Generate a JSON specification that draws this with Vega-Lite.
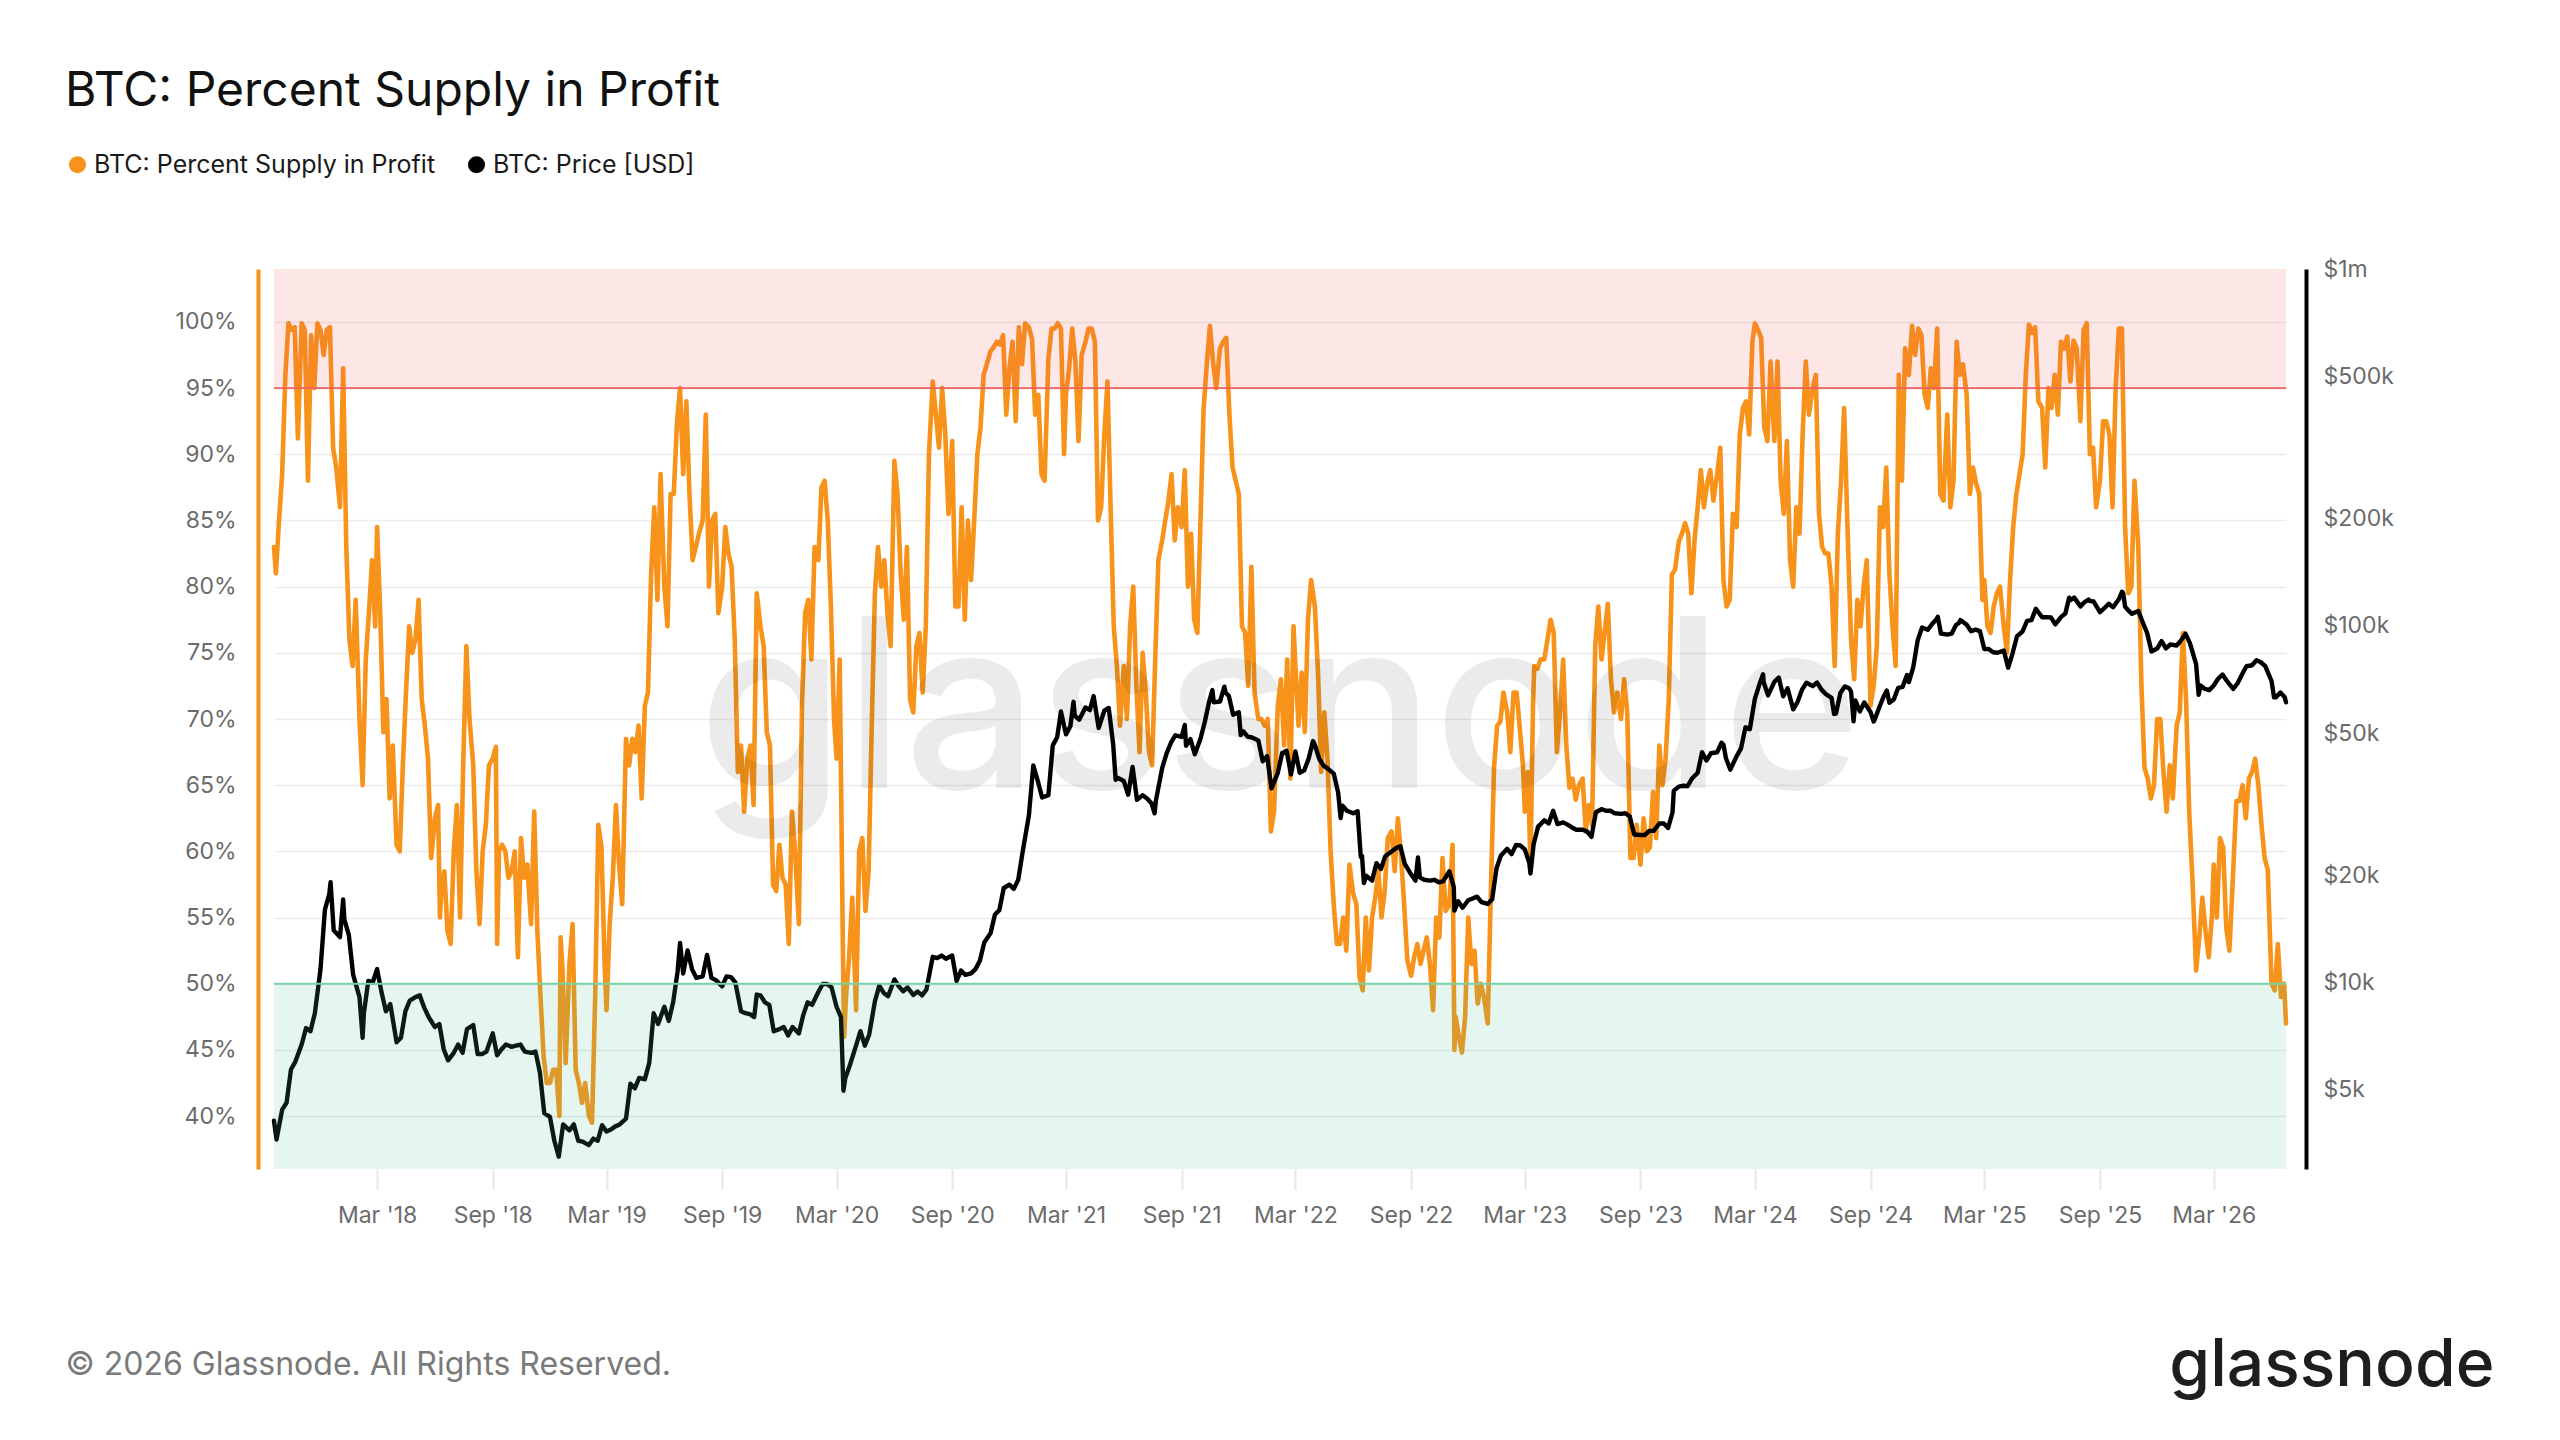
{
  "$schema": "https://vega.github.io/schema/vega-lite/v6.json",
  "width": 2012,
  "height": 900,
  "autosize": {"type": "none"},
  "padding": {"left": 274, "top": 269, "right": 274, "bottom": 271},
  "background": "#ffffff",
  "config": {
    "font": "Inter",
    "view": {"stroke": null},
    "axis": {"labelFont": "Inter", "titleFont": "Inter", "labelFontSize": 23, "labelColor": "#6b6b6b"}
  },
  "title": {
    "text": "BTC: Percent Supply in Profit",
    "anchor": "start",
    "frame": "group",
    "orient": "top",
    "dx": -209,
    "dy": 46,
    "offset": 44,
    "baseline": "alphabetic",
    "fontSize": 48,
    "fontWeight": 400,
    "color": "#111111",
    "font": "Inter"
  },
  "datasets": {
    "supply": [
      {"d":"2017-09-18","v":83},{"d":"2017-09-21","v":81},{"d":"2017-09-26","v":85},
      {"d":"2017-10-01","v":88.5},{"d":"2017-10-06","v":95.9},{"d":"2017-10-11","v":99.9},{"d":"2017-10-16","v":99.4},{"d":"2017-10-21","v":99.6},{"d":"2017-10-26","v":91.2},
      {"d":"2017-11-01","v":99.9},{"d":"2017-11-06","v":99.4},{"d":"2017-11-11","v":88},{"d":"2017-11-16","v":99},{"d":"2017-11-21","v":95},{"d":"2017-11-26","v":99.9},
      {"d":"2017-12-01","v":99.4},{"d":"2017-12-06","v":97.5},{"d":"2017-12-11","v":99.4},{"d":"2017-12-16","v":99.6},{"d":"2017-12-21","v":90.5},{"d":"2017-12-26","v":89},
      {"d":"2018-01-01","v":86},{"d":"2018-01-06","v":96.5},{"d":"2018-01-11","v":83},{"d":"2018-01-16","v":76},{"d":"2018-01-21","v":74},{"d":"2018-01-26","v":79},
      {"d":"2018-02-01","v":70},{"d":"2018-02-06","v":65},{"d":"2018-02-11","v":74.5},{"d":"2018-02-16","v":78},{"d":"2018-02-21","v":82},{"d":"2018-02-26","v":77},
      {"d":"2018-03-01","v":84.5},{"d":"2018-03-06","v":78},{"d":"2018-03-11","v":69},{"d":"2018-03-16","v":71.5},{"d":"2018-03-21","v":64},{"d":"2018-03-26","v":68},
      {"d":"2018-04-01","v":60.5},{"d":"2018-04-06","v":60},{"d":"2018-04-11","v":66.5},{"d":"2018-04-16","v":72},{"d":"2018-04-21","v":77},{"d":"2018-04-26","v":75},
      {"d":"2018-05-01","v":76},{"d":"2018-05-06","v":79},{"d":"2018-05-11","v":71.5},{"d":"2018-05-16","v":69.5},{"d":"2018-05-21","v":67},{"d":"2018-05-26","v":59.5},
      {"d":"2018-06-01","v":62.5},{"d":"2018-06-06","v":63.5},{"d":"2018-06-09","v":55},{"d":"2018-06-11","v":57},{"d":"2018-06-16","v":58.5},{"d":"2018-06-21","v":54},{"d":"2018-06-26","v":53},
      {"d":"2018-07-01","v":60},{"d":"2018-07-06","v":63.5},{"d":"2018-07-11","v":55},{"d":"2018-07-16","v":66.5},{"d":"2018-07-21","v":75.5},{"d":"2018-07-26","v":70},
      {"d":"2018-08-01","v":66.5},{"d":"2018-08-06","v":58.5},{"d":"2018-08-11","v":54.5},{"d":"2018-08-16","v":60},{"d":"2018-08-21","v":62},{"d":"2018-08-26","v":66.5},
      {"d":"2018-09-01","v":67},{"d":"2018-09-06","v":67.9},{"d":"2018-09-08","v":53},{"d":"2018-09-11","v":60},{"d":"2018-09-16","v":60.5},{"d":"2018-09-21","v":60},{"d":"2018-09-26","v":58},
      {"d":"2018-10-01","v":58.5},{"d":"2018-10-06","v":60},{"d":"2018-10-11","v":52},{"d":"2018-10-16","v":61},{"d":"2018-10-21","v":58},{"d":"2018-10-26","v":59},
      {"d":"2018-11-01","v":54.5},{"d":"2018-11-06","v":63},{"d":"2018-11-11","v":54},{"d":"2018-11-16","v":49},{"d":"2018-11-21","v":44.5},{"d":"2018-11-26","v":42.5},
      {"d":"2018-12-01","v":42.5},{"d":"2018-12-06","v":43.5},{"d":"2018-12-11","v":43.5},{"d":"2018-12-16","v":40},{"d":"2018-12-18","v":53.5},{"d":"2018-12-21","v":51},{"d":"2018-12-26","v":44},
      {"d":"2019-01-01","v":51.5},{"d":"2019-01-06","v":54.5},{"d":"2019-01-11","v":43.5},{"d":"2019-01-16","v":42.5},{"d":"2019-01-21","v":41},{"d":"2019-01-26","v":42.5},
      {"d":"2019-02-01","v":40},{"d":"2019-02-06","v":39.5},{"d":"2019-02-11","v":49},{"d":"2019-02-16","v":62},{"d":"2019-02-21","v":60.3},{"d":"2019-02-26","v":51.5},
      {"d":"2019-03-01","v":48},{"d":"2019-03-06","v":54.5},{"d":"2019-03-11","v":58},{"d":"2019-03-16","v":63.5},{"d":"2019-03-21","v":59},{"d":"2019-03-26","v":56},
      {"d":"2019-04-01","v":68.5},{"d":"2019-04-06","v":66.5},{"d":"2019-04-11","v":68.5},{"d":"2019-04-16","v":67.5},{"d":"2019-04-21","v":69.5},{"d":"2019-04-26","v":64},
      {"d":"2019-05-01","v":71},{"d":"2019-05-06","v":72},{"d":"2019-05-11","v":81},{"d":"2019-05-16","v":86},{"d":"2019-05-21","v":79},{"d":"2019-05-26","v":88.5},
      {"d":"2019-06-01","v":80},{"d":"2019-06-06","v":77},{"d":"2019-06-11","v":87},{"d":"2019-06-16","v":87},{"d":"2019-06-21","v":92.3},{"d":"2019-06-26","v":95},
      {"d":"2019-07-01","v":88.5},{"d":"2019-07-06","v":94},{"d":"2019-07-11","v":87},{"d":"2019-07-16","v":82},{"d":"2019-07-21","v":83},{"d":"2019-07-26","v":84},
      {"d":"2019-08-01","v":85},{"d":"2019-08-06","v":93},{"d":"2019-08-11","v":80},{"d":"2019-08-16","v":85},{"d":"2019-08-21","v":85.5},{"d":"2019-08-26","v":78},
      {"d":"2019-09-01","v":80},{"d":"2019-09-06","v":84.5},{"d":"2019-09-11","v":82.5},{"d":"2019-09-16","v":81.5},{"d":"2019-09-21","v":76},{"d":"2019-09-26","v":66},
      {"d":"2019-10-01","v":68},{"d":"2019-10-06","v":63},{"d":"2019-10-11","v":67},{"d":"2019-10-16","v":68},{"d":"2019-10-21","v":63.5},{"d":"2019-10-26","v":79.5},
      {"d":"2019-11-01","v":77},{"d":"2019-11-06","v":75.5},{"d":"2019-11-11","v":69},{"d":"2019-11-16","v":68},{"d":"2019-11-21","v":57.5},{"d":"2019-11-26","v":57},
      {"d":"2019-12-01","v":60.5},{"d":"2019-12-06","v":58},{"d":"2019-12-11","v":57.5},{"d":"2019-12-16","v":53},{"d":"2019-12-21","v":63},{"d":"2019-12-26","v":60},
      {"d":"2020-01-01","v":54.5},{"d":"2020-01-06","v":71},{"d":"2020-01-11","v":78},{"d":"2020-01-16","v":79},{"d":"2020-01-21","v":74.5},{"d":"2020-01-26","v":83},
      {"d":"2020-02-01","v":82},{"d":"2020-02-06","v":87.5},{"d":"2020-02-11","v":88},{"d":"2020-02-16","v":85},{"d":"2020-02-21","v":78.5},{"d":"2020-02-26","v":70},
      {"d":"2020-03-01","v":67},{"d":"2020-03-06","v":74.5},{"d":"2020-03-11","v":53},{"d":"2020-03-13","v":46},{"d":"2020-03-16","v":49},{"d":"2020-03-21","v":52},{"d":"2020-03-26","v":56.5},
      {"d":"2020-04-01","v":48},{"d":"2020-04-06","v":60},{"d":"2020-04-11","v":61},{"d":"2020-04-16","v":55.5},{"d":"2020-04-21","v":58.5},{"d":"2020-04-26","v":69.5},
      {"d":"2020-05-01","v":79.5},{"d":"2020-05-06","v":83},{"d":"2020-05-11","v":80},{"d":"2020-05-16","v":82},{"d":"2020-05-21","v":78},{"d":"2020-05-26","v":75.5},
      {"d":"2020-06-01","v":89.5},{"d":"2020-06-06","v":87},{"d":"2020-06-11","v":81},{"d":"2020-06-16","v":77.5},{"d":"2020-06-21","v":83},{"d":"2020-06-26","v":71.5},
      {"d":"2020-07-01","v":70.5},{"d":"2020-07-06","v":75.5},{"d":"2020-07-11","v":76.5},{"d":"2020-07-16","v":72},{"d":"2020-07-21","v":77},{"d":"2020-07-26","v":90},
      {"d":"2020-08-01","v":95.5},{"d":"2020-08-06","v":93},{"d":"2020-08-11","v":90.5},{"d":"2020-08-16","v":95},{"d":"2020-08-21","v":91.5},{"d":"2020-08-26","v":85.5},
      {"d":"2020-09-01","v":91},{"d":"2020-09-06","v":78.5},{"d":"2020-09-11","v":78.5},{"d":"2020-09-16","v":86},{"d":"2020-09-21","v":77.5},{"d":"2020-09-26","v":85},
      {"d":"2020-10-01","v":80.5},{"d":"2020-10-06","v":85},{"d":"2020-10-11","v":90},{"d":"2020-10-16","v":92},{"d":"2020-10-21","v":96},{"d":"2020-10-26","v":96.8},
      {"d":"2020-11-01","v":97.8},{"d":"2020-11-06","v":98.1},{"d":"2020-11-11","v":98.5},{"d":"2020-11-16","v":98.3},{"d":"2020-11-21","v":99},{"d":"2020-11-26","v":93},
      {"d":"2020-12-01","v":96.5},{"d":"2020-12-06","v":98.5},{"d":"2020-12-11","v":92.5},{"d":"2020-12-16","v":99.6},{"d":"2020-12-21","v":96.8},{"d":"2020-12-26","v":99.9},
      {"d":"2021-01-01","v":99.6},{"d":"2021-01-06","v":98.7},{"d":"2021-01-11","v":93},{"d":"2021-01-16","v":94.5},{"d":"2021-01-21","v":88.5},{"d":"2021-01-26","v":88},
      {"d":"2021-02-01","v":97.2},{"d":"2021-02-06","v":99.5},{"d":"2021-02-11","v":99.5},{"d":"2021-02-16","v":99.9},{"d":"2021-02-21","v":99.5},{"d":"2021-02-26","v":90},
      {"d":"2021-03-01","v":94.5},{"d":"2021-03-06","v":96.5},{"d":"2021-03-11","v":99.5},{"d":"2021-03-16","v":97},{"d":"2021-03-21","v":91},{"d":"2021-03-26","v":97.5},
      {"d":"2021-04-01","v":98.5},{"d":"2021-04-06","v":99.5},{"d":"2021-04-11","v":99.5},{"d":"2021-04-16","v":98.5},{"d":"2021-04-21","v":85},{"d":"2021-04-26","v":86},
      {"d":"2021-05-01","v":91.5},{"d":"2021-05-06","v":95.5},{"d":"2021-05-11","v":86},{"d":"2021-05-16","v":77},{"d":"2021-05-21","v":74},{"d":"2021-05-26","v":69.5},
      {"d":"2021-06-01","v":74},{"d":"2021-06-06","v":70},{"d":"2021-06-11","v":77},{"d":"2021-06-16","v":80},{"d":"2021-06-21","v":72.5},{"d":"2021-06-26","v":67.5},
      {"d":"2021-07-01","v":75},{"d":"2021-07-06","v":72},{"d":"2021-07-11","v":67.5},{"d":"2021-07-16","v":66.5},{"d":"2021-07-21","v":74.5},{"d":"2021-07-26","v":82},
      {"d":"2021-08-01","v":83.5},{"d":"2021-08-06","v":85},{"d":"2021-08-11","v":86.5},{"d":"2021-08-16","v":88.5},{"d":"2021-08-21","v":83.5},{"d":"2021-08-26","v":86},
      {"d":"2021-09-01","v":84.5},{"d":"2021-09-06","v":88.8},{"d":"2021-09-11","v":80},{"d":"2021-09-16","v":84},{"d":"2021-09-21","v":77.5},{"d":"2021-09-26","v":76.5},
      {"d":"2021-10-01","v":85},{"d":"2021-10-06","v":93.5},{"d":"2021-10-11","v":96.8},{"d":"2021-10-16","v":99.7},{"d":"2021-10-21","v":97},{"d":"2021-10-26","v":95},
      {"d":"2021-11-01","v":98},{"d":"2021-11-06","v":98.5},{"d":"2021-11-11","v":98.8},{"d":"2021-11-16","v":93},{"d":"2021-11-21","v":89},{"d":"2021-11-26","v":88},
      {"d":"2021-12-01","v":87},{"d":"2021-12-06","v":77},{"d":"2021-12-11","v":76.5},{"d":"2021-12-16","v":72.5},{"d":"2021-12-21","v":81.5},{"d":"2021-12-26","v":72},
      {"d":"2022-01-01","v":70},{"d":"2022-01-06","v":70},{"d":"2022-01-11","v":69.5},{"d":"2022-01-16","v":70},{"d":"2022-01-21","v":61.5},{"d":"2022-01-26","v":63},
      {"d":"2022-02-01","v":71},{"d":"2022-02-06","v":73},{"d":"2022-02-11","v":68},{"d":"2022-02-16","v":74.5},{"d":"2022-02-21","v":65.5},{"d":"2022-02-26","v":77},
      {"d":"2022-03-01","v":74},{"d":"2022-03-06","v":69.5},{"d":"2022-03-11","v":73.5},{"d":"2022-03-16","v":69},{"d":"2022-03-21","v":77.5},{"d":"2022-03-26","v":80.5},
      {"d":"2022-04-01","v":78.5},{"d":"2022-04-06","v":73.5},{"d":"2022-04-11","v":66},{"d":"2022-04-16","v":70.5},{"d":"2022-04-21","v":67},{"d":"2022-04-26","v":60},
      {"d":"2022-05-01","v":56},{"d":"2022-05-06","v":53},{"d":"2022-05-11","v":53},{"d":"2022-05-16","v":55},{"d":"2022-05-21","v":52.5},{"d":"2022-05-26","v":59},
      {"d":"2022-06-01","v":56.8},{"d":"2022-06-06","v":56},{"d":"2022-06-11","v":50.5},{"d":"2022-06-16","v":49.5},{"d":"2022-06-21","v":55},{"d":"2022-06-26","v":51},
      {"d":"2022-07-01","v":55},{"d":"2022-07-06","v":56.5},{"d":"2022-07-11","v":58.5},{"d":"2022-07-16","v":55},{"d":"2022-07-21","v":57},{"d":"2022-07-26","v":61},
      {"d":"2022-08-01","v":61.5},{"d":"2022-08-06","v":58.5},{"d":"2022-08-11","v":62.5},{"d":"2022-08-16","v":59.8},{"d":"2022-08-21","v":56},{"d":"2022-08-26","v":51.8},
      {"d":"2022-09-01","v":50.6},{"d":"2022-09-06","v":52},{"d":"2022-09-11","v":53},{"d":"2022-09-16","v":51.5},{"d":"2022-09-21","v":52.5},{"d":"2022-09-26","v":53.5},
      {"d":"2022-10-01","v":51.5},{"d":"2022-10-06","v":48},{"d":"2022-10-11","v":55},{"d":"2022-10-16","v":53.5},{"d":"2022-10-21","v":59.5},{"d":"2022-10-26","v":55.5},
      {"d":"2022-11-01","v":56},{"d":"2022-11-06","v":60.5},{"d":"2022-11-09","v":45},{"d":"2022-11-11","v":47.5},{"d":"2022-11-16","v":46},{"d":"2022-11-21","v":44.8},{"d":"2022-11-26","v":47.5},
      {"d":"2022-12-01","v":55},{"d":"2022-12-06","v":51.5},{"d":"2022-12-11","v":52.5},{"d":"2022-12-16","v":48.5},{"d":"2022-12-21","v":50},{"d":"2022-12-26","v":49},
      {"d":"2023-01-01","v":47},{"d":"2023-01-06","v":57},{"d":"2023-01-11","v":66.3},{"d":"2023-01-16","v":69.5},{"d":"2023-01-21","v":69.8},{"d":"2023-01-26","v":72},
      {"d":"2023-02-01","v":70.5},{"d":"2023-02-06","v":67.5},{"d":"2023-02-11","v":72},{"d":"2023-02-16","v":72},{"d":"2023-02-21","v":69.3},{"d":"2023-02-26","v":66.5},
      {"d":"2023-03-01","v":63},{"d":"2023-03-06","v":66},{"d":"2023-03-10","v":59},{"d":"2023-03-14","v":71},{"d":"2023-03-16","v":74},{"d":"2023-03-21","v":73.8},{"d":"2023-03-26","v":74.5},
      {"d":"2023-04-01","v":74.5},{"d":"2023-04-06","v":76},{"d":"2023-04-11","v":77.5},{"d":"2023-04-16","v":76.5},{"d":"2023-04-21","v":67.5},{"d":"2023-04-26","v":70.5},
      {"d":"2023-05-01","v":74.5},{"d":"2023-05-06","v":68},{"d":"2023-05-11","v":64.8},{"d":"2023-05-16","v":65.5},{"d":"2023-05-21","v":63.9},{"d":"2023-05-26","v":65},
      {"d":"2023-06-01","v":65.5},{"d":"2023-06-06","v":61.5},{"d":"2023-06-11","v":63.5},{"d":"2023-06-16","v":62},{"d":"2023-06-21","v":75.5},{"d":"2023-06-26","v":78.5},
      {"d":"2023-07-01","v":74.5},{"d":"2023-07-06","v":76.6},{"d":"2023-07-11","v":78.7},{"d":"2023-07-16","v":73},{"d":"2023-07-21","v":70.5},{"d":"2023-07-26","v":72},
      {"d":"2023-08-01","v":70},{"d":"2023-08-06","v":73},{"d":"2023-08-11","v":70.5},{"d":"2023-08-16","v":59.5},{"d":"2023-08-21","v":59.5},{"d":"2023-08-26","v":62},
      {"d":"2023-09-01","v":59},{"d":"2023-09-06","v":62.5},{"d":"2023-09-11","v":60},{"d":"2023-09-16","v":60.3},{"d":"2023-09-21","v":64.5},{"d":"2023-09-26","v":61},
      {"d":"2023-10-01","v":68},{"d":"2023-10-06","v":65},{"d":"2023-10-11","v":67},{"d":"2023-10-16","v":71.5},{"d":"2023-10-21","v":80.9},{"d":"2023-10-26","v":81.3},
      {"d":"2023-11-01","v":83.4},{"d":"2023-11-06","v":84},{"d":"2023-11-11","v":84.8},{"d":"2023-11-16","v":84},{"d":"2023-11-21","v":79.5},{"d":"2023-11-26","v":83.5},
      {"d":"2023-12-01","v":86},{"d":"2023-12-06","v":88.8},{"d":"2023-12-11","v":86},{"d":"2023-12-16","v":87.8},{"d":"2023-12-21","v":88.8},{"d":"2023-12-26","v":86.5},
      {"d":"2024-01-01","v":88.5},{"d":"2024-01-06","v":90.5},{"d":"2024-01-11","v":80.5},{"d":"2024-01-16","v":78.5},{"d":"2024-01-21","v":79},{"d":"2024-01-26","v":85.5},
      {"d":"2024-02-01","v":84.5},{"d":"2024-02-06","v":91.5},{"d":"2024-02-11","v":93.5},{"d":"2024-02-16","v":94},{"d":"2024-02-21","v":91.5},{"d":"2024-02-26","v":98.5},
      {"d":"2024-03-01","v":99.9},{"d":"2024-03-06","v":99.4},{"d":"2024-03-11","v":98.8},{"d":"2024-03-16","v":92},{"d":"2024-03-21","v":91},{"d":"2024-03-26","v":97},
      {"d":"2024-04-01","v":91},{"d":"2024-04-06","v":97},{"d":"2024-04-11","v":88},{"d":"2024-04-16","v":85.5},{"d":"2024-04-21","v":91},{"d":"2024-04-26","v":82},
      {"d":"2024-05-01","v":80},{"d":"2024-05-06","v":86},{"d":"2024-05-11","v":84},{"d":"2024-05-16","v":91.5},{"d":"2024-05-21","v":97},{"d":"2024-05-26","v":93},
      {"d":"2024-06-01","v":95},{"d":"2024-06-06","v":96},{"d":"2024-06-11","v":85.5},{"d":"2024-06-16","v":83},{"d":"2024-06-21","v":82.5},{"d":"2024-06-26","v":82.5},
      {"d":"2024-07-01","v":80},{"d":"2024-07-06","v":74},{"d":"2024-07-11","v":84},{"d":"2024-07-16","v":87.8},{"d":"2024-07-21","v":93.5},{"d":"2024-07-26","v":85},
      {"d":"2024-08-01","v":76},{"d":"2024-08-06","v":73},{"d":"2024-08-11","v":79},{"d":"2024-08-16","v":77},{"d":"2024-08-21","v":80},{"d":"2024-08-26","v":82},
      {"d":"2024-09-01","v":71},{"d":"2024-09-06","v":72.5},{"d":"2024-09-11","v":75.5},{"d":"2024-09-16","v":86},{"d":"2024-09-21","v":84.5},{"d":"2024-09-26","v":89},
      {"d":"2024-10-01","v":81},{"d":"2024-10-06","v":77},{"d":"2024-10-11","v":74},{"d":"2024-10-16","v":96},{"d":"2024-10-21","v":88},{"d":"2024-10-26","v":98},
      {"d":"2024-11-01","v":96},{"d":"2024-11-06","v":99.7},{"d":"2024-11-11","v":97.5},{"d":"2024-11-16","v":99.5},{"d":"2024-11-21","v":99},{"d":"2024-11-26","v":94.5},
      {"d":"2024-12-01","v":93.5},{"d":"2024-12-06","v":96.5},{"d":"2024-12-11","v":95},{"d":"2024-12-16","v":99.5},{"d":"2024-12-21","v":87},{"d":"2024-12-26","v":86.5},
      {"d":"2025-01-01","v":93},{"d":"2025-01-06","v":86},{"d":"2025-01-11","v":88},{"d":"2025-01-16","v":98.5},{"d":"2025-01-21","v":96},{"d":"2025-01-26","v":96.8},
      {"d":"2025-02-01","v":94.5},{"d":"2025-02-06","v":87},{"d":"2025-02-11","v":89},{"d":"2025-02-16","v":87.8},{"d":"2025-02-21","v":87},{"d":"2025-02-26","v":79},
      {"d":"2025-03-01","v":80.5},{"d":"2025-03-06","v":77},{"d":"2025-03-11","v":76.5},{"d":"2025-03-16","v":78.5},{"d":"2025-03-21","v":79.5},{"d":"2025-03-26","v":80},
      {"d":"2025-04-01","v":77},{"d":"2025-04-06","v":75},{"d":"2025-04-11","v":80.5},{"d":"2025-04-16","v":84.5},{"d":"2025-04-21","v":87},{"d":"2025-04-26","v":88.5},
      {"d":"2025-05-01","v":90},{"d":"2025-05-06","v":96},{"d":"2025-05-11","v":99.8},{"d":"2025-05-16","v":99.2},{"d":"2025-05-21","v":99.6},{"d":"2025-05-26","v":94},
      {"d":"2025-06-01","v":93.5},{"d":"2025-06-06","v":89},{"d":"2025-06-11","v":95},{"d":"2025-06-16","v":93.5},{"d":"2025-06-21","v":96},{"d":"2025-06-26","v":93},
      {"d":"2025-07-01","v":98.5},{"d":"2025-07-06","v":98},{"d":"2025-07-11","v":98.9},{"d":"2025-07-16","v":95.5},{"d":"2025-07-21","v":98.6},{"d":"2025-07-26","v":98},
      {"d":"2025-08-01","v":92.5},{"d":"2025-08-06","v":99.4},{"d":"2025-08-11","v":99.9},{"d":"2025-08-16","v":90},{"d":"2025-08-21","v":90.5},{"d":"2025-08-26","v":86},
      {"d":"2025-09-01","v":88},{"d":"2025-09-06","v":92.5},{"d":"2025-09-11","v":92.5},{"d":"2025-09-16","v":91.5},{"d":"2025-09-21","v":86},{"d":"2025-09-26","v":95},
      {"d":"2025-10-01","v":99.5},{"d":"2025-10-06","v":99.5},{"d":"2025-10-11","v":84.5},{"d":"2025-10-16","v":79.5},{"d":"2025-10-21","v":80},{"d":"2025-10-26","v":88},
      {"d":"2025-11-01","v":83},{"d":"2025-11-06","v":72.5},{"d":"2025-11-11","v":66.3},{"d":"2025-11-16","v":65.5},{"d":"2025-11-21","v":64},{"d":"2025-11-26","v":65},
      {"d":"2025-12-01","v":70},{"d":"2025-12-06","v":70},{"d":"2025-12-11","v":66},{"d":"2025-12-16","v":63},{"d":"2025-12-21","v":66.5},{"d":"2025-12-26","v":64},
      {"d":"2026-01-01","v":69.5},{"d":"2026-01-06","v":70.5},{"d":"2026-01-11","v":76.5},{"d":"2026-01-16","v":71.5},{"d":"2026-01-21","v":63},{"d":"2026-01-26","v":58},
      {"d":"2026-02-01","v":51},{"d":"2026-02-06","v":53.5},{"d":"2026-02-11","v":56.5},{"d":"2026-02-16","v":54},{"d":"2026-02-21","v":52},{"d":"2026-02-26","v":55},
      {"d":"2026-03-01","v":59},{"d":"2026-03-06","v":55},{"d":"2026-03-11","v":61},{"d":"2026-03-16","v":60.3},{"d":"2026-03-21","v":54.2},{"d":"2026-03-26","v":52.5},
      {"d":"2026-04-01","v":58.5},{"d":"2026-04-06","v":63.8},{"d":"2026-04-11","v":63.8},{"d":"2026-04-16","v":65},{"d":"2026-04-21","v":62.5},{"d":"2026-04-26","v":65.5},
      {"d":"2026-05-01","v":66},{"d":"2026-05-06","v":67},{"d":"2026-05-11","v":65},{"d":"2026-05-16","v":62},{"d":"2026-05-21","v":59.5},{"d":"2026-05-26","v":58.6},
      {"d":"2026-06-01","v":50},{"d":"2026-06-06","v":49.5},{"d":"2026-06-11","v":53},{"d":"2026-06-16","v":49},{"d":"2026-06-21","v":50},{"d":"2026-06-24","v":47}
    ],
    "price": [
      {"d":"2017-09-18","p":4100},{"d":"2017-09-22","p":3630},
      {"d":"2017-10-01","p":4400},{"d":"2017-10-08","p":4600},{"d":"2017-10-15","p":5700},{"d":"2017-10-22","p":6000},
      {"d":"2017-11-01","p":6700},{"d":"2017-11-08","p":7450},{"d":"2017-11-15","p":7300},{"d":"2017-11-22","p":8200},
      {"d":"2017-12-01","p":10900},{"d":"2017-12-08","p":16000},{"d":"2017-12-15","p":17700},{"d":"2017-12-17","p":19100},{"d":"2017-12-22","p":14000},
      {"d":"2018-01-01","p":13400},{"d":"2018-01-06","p":17100},{"d":"2018-01-08","p":15000},{"d":"2018-01-15","p":13600},{"d":"2018-01-22","p":10500},
      {"d":"2018-02-01","p":9100},{"d":"2018-02-06","p":7000},{"d":"2018-02-08","p":8200},{"d":"2018-02-15","p":10100},{"d":"2018-02-22","p":10000},
      {"d":"2018-03-01","p":10900},{"d":"2018-03-08","p":9400},{"d":"2018-03-15","p":8300},{"d":"2018-03-22","p":8700},
      {"d":"2018-04-01","p":6800},{"d":"2018-04-08","p":7000},{"d":"2018-04-15","p":8300},{"d":"2018-04-22","p":8900},
      {"d":"2018-05-01","p":9100},{"d":"2018-05-08","p":9200},{"d":"2018-05-15","p":8500},{"d":"2018-05-22","p":8000},
      {"d":"2018-06-01","p":7500},{"d":"2018-06-08","p":7650},{"d":"2018-06-15","p":6500},{"d":"2018-06-22","p":6050},
      {"d":"2018-07-01","p":6350},{"d":"2018-07-08","p":6700},{"d":"2018-07-15","p":6350},{"d":"2018-07-22","p":7400},
      {"d":"2018-08-01","p":7600},{"d":"2018-08-08","p":6300},{"d":"2018-08-15","p":6300},{"d":"2018-08-22","p":6400},
      {"d":"2018-09-01","p":7200},{"d":"2018-09-08","p":6250},{"d":"2018-09-15","p":6500},{"d":"2018-09-22","p":6700},
      {"d":"2018-10-01","p":6600},{"d":"2018-10-08","p":6650},{"d":"2018-10-15","p":6700},{"d":"2018-10-22","p":6400},
      {"d":"2018-11-01","p":6350},{"d":"2018-11-08","p":6400},{"d":"2018-11-15","p":5600},{"d":"2018-11-22","p":4300},
      {"d":"2018-12-01","p":4200},{"d":"2018-12-08","p":3600},{"d":"2018-12-15","p":3250},{"d":"2018-12-22","p":4000},
      {"d":"2019-01-01","p":3850},{"d":"2019-01-08","p":4000},{"d":"2019-01-15","p":3600},{"d":"2019-01-22","p":3580},
      {"d":"2019-02-01","p":3500},{"d":"2019-02-08","p":3650},{"d":"2019-02-15","p":3600},{"d":"2019-02-22","p":3980},
      {"d":"2019-03-01","p":3820},{"d":"2019-03-08","p":3870},{"d":"2019-03-15","p":3950},{"d":"2019-03-22","p":4000},
      {"d":"2019-04-01","p":4150},{"d":"2019-04-08","p":5200},{"d":"2019-04-15","p":5050},{"d":"2019-04-22","p":5400},
      {"d":"2019-05-01","p":5350},{"d":"2019-05-08","p":5950},{"d":"2019-05-15","p":8200},{"d":"2019-05-22","p":7650},
      {"d":"2019-06-01","p":8550},{"d":"2019-06-08","p":7800},{"d":"2019-06-15","p":8800},{"d":"2019-06-22","p":10700},{"d":"2019-06-26","p":12900},
      {"d":"2019-07-01","p":10600},{"d":"2019-07-08","p":12300},{"d":"2019-07-15","p":10900},{"d":"2019-07-22","p":10300},
      {"d":"2019-08-01","p":10400},{"d":"2019-08-08","p":11950},{"d":"2019-08-15","p":10300},{"d":"2019-08-22","p":10150},
      {"d":"2019-09-01","p":9750},{"d":"2019-09-08","p":10400},{"d":"2019-09-15","p":10350},{"d":"2019-09-22","p":10000},
      {"d":"2019-10-01","p":8300},{"d":"2019-10-08","p":8200},{"d":"2019-10-15","p":8150},{"d":"2019-10-22","p":8000},{"d":"2019-10-26","p":9250},
      {"d":"2019-11-01","p":9200},{"d":"2019-11-08","p":8800},{"d":"2019-11-15","p":8650},{"d":"2019-11-22","p":7300},
      {"d":"2019-12-01","p":7400},{"d":"2019-12-08","p":7500},{"d":"2019-12-15","p":7100},{"d":"2019-12-22","p":7500},
      {"d":"2020-01-01","p":7200},{"d":"2020-01-08","p":8100},{"d":"2020-01-15","p":8800},{"d":"2020-01-22","p":8650},
      {"d":"2020-02-01","p":9400},{"d":"2020-02-08","p":9900},{"d":"2020-02-15","p":9900},{"d":"2020-02-22","p":9700},
      {"d":"2020-03-01","p":8550},{"d":"2020-03-08","p":8000},{"d":"2020-03-12","p":4970},{"d":"2020-03-15","p":5400},{"d":"2020-03-22","p":5850},
      {"d":"2020-04-01","p":6650},{"d":"2020-04-08","p":7300},{"d":"2020-04-15","p":6650},{"d":"2020-04-22","p":7150},
      {"d":"2020-05-01","p":8850},{"d":"2020-05-08","p":9800},{"d":"2020-05-15","p":9350},{"d":"2020-05-22","p":9150},
      {"d":"2020-06-01","p":10200},{"d":"2020-06-08","p":9750},{"d":"2020-06-15","p":9450},{"d":"2020-06-22","p":9680},
      {"d":"2020-07-01","p":9230},{"d":"2020-07-08","p":9430},{"d":"2020-07-15","p":9200},{"d":"2020-07-22","p":9550},
      {"d":"2020-08-01","p":11800},{"d":"2020-08-08","p":11700},{"d":"2020-08-15","p":11900},{"d":"2020-08-22","p":11650},
      {"d":"2020-09-01","p":11900},{"d":"2020-09-08","p":10100},{"d":"2020-09-15","p":10800},{"d":"2020-09-22","p":10500},
      {"d":"2020-10-01","p":10600},{"d":"2020-10-08","p":10900},{"d":"2020-10-15","p":11500},{"d":"2020-10-22","p":12950},
      {"d":"2020-11-01","p":13750},{"d":"2020-11-08","p":15500},{"d":"2020-11-15","p":15950},{"d":"2020-11-22","p":18400},
      {"d":"2020-12-01","p":18800},{"d":"2020-12-08","p":18300},{"d":"2020-12-15","p":19400},{"d":"2020-12-22","p":23200},
      {"d":"2021-01-01","p":29400},{"d":"2021-01-08","p":40600},{"d":"2021-01-15","p":36800},{"d":"2021-01-22","p":33000},
      {"d":"2021-02-01","p":33500},{"d":"2021-02-08","p":46200},{"d":"2021-02-15","p":48700},{"d":"2021-02-21","p":57500},
      {"d":"2021-03-01","p":49600},{"d":"2021-03-08","p":52300},{"d":"2021-03-13","p":61200},{"d":"2021-03-15","p":56000},{"d":"2021-03-22","p":54500},
      {"d":"2021-04-01","p":59000},{"d":"2021-04-08","p":58000},{"d":"2021-04-14","p":63500},{"d":"2021-04-22","p":51700},
      {"d":"2021-05-01","p":57800},{"d":"2021-05-08","p":58800},{"d":"2021-05-15","p":46700},{"d":"2021-05-19","p":37000},{"d":"2021-05-22","p":37500},
      {"d":"2021-06-01","p":36700},{"d":"2021-06-08","p":33600},{"d":"2021-06-15","p":40200},{"d":"2021-06-22","p":32500},
      {"d":"2021-07-01","p":33500},{"d":"2021-07-08","p":32800},{"d":"2021-07-15","p":31800},{"d":"2021-07-20","p":29800},{"d":"2021-07-22","p":32300},
      {"d":"2021-08-01","p":39900},{"d":"2021-08-08","p":43800},{"d":"2021-08-15","p":47000},{"d":"2021-08-22","p":49300},
      {"d":"2021-09-01","p":48800},{"d":"2021-09-06","p":52700},{"d":"2021-09-08","p":46100},{"d":"2021-09-15","p":48100},{"d":"2021-09-22","p":43600},
      {"d":"2021-10-01","p":48200},{"d":"2021-10-08","p":53900},{"d":"2021-10-15","p":61500},{"d":"2021-10-20","p":66000},{"d":"2021-10-22","p":61000},
      {"d":"2021-11-01","p":61300},{"d":"2021-11-08","p":67500},{"d":"2021-11-10","p":64900},{"d":"2021-11-15","p":63600},{"d":"2021-11-22","p":56300},
      {"d":"2021-12-01","p":57200},{"d":"2021-12-04","p":49400},{"d":"2021-12-08","p":50600},{"d":"2021-12-15","p":48900},{"d":"2021-12-22","p":48600},
      {"d":"2022-01-01","p":47700},{"d":"2022-01-08","p":41700},{"d":"2022-01-15","p":43100},{"d":"2022-01-22","p":35000},
      {"d":"2022-02-01","p":38700},{"d":"2022-02-08","p":44000},{"d":"2022-02-15","p":44600},{"d":"2022-02-22","p":38300},
      {"d":"2022-03-01","p":44400},{"d":"2022-03-08","p":38700},{"d":"2022-03-15","p":39300},{"d":"2022-03-22","p":42400},{"d":"2022-03-29","p":47500},
      {"d":"2022-04-01","p":46300},{"d":"2022-04-08","p":42300},{"d":"2022-04-15","p":40500},{"d":"2022-04-22","p":39700},
      {"d":"2022-05-01","p":38500},{"d":"2022-05-08","p":34100},{"d":"2022-05-12","p":28900},{"d":"2022-05-15","p":31300},{"d":"2022-05-22","p":30300},
      {"d":"2022-06-01","p":29800},{"d":"2022-06-08","p":30200},{"d":"2022-06-13","p":22500},{"d":"2022-06-15","p":22600},{"d":"2022-06-18","p":19000},{"d":"2022-06-22","p":19900},
      {"d":"2022-07-01","p":19300},{"d":"2022-07-08","p":21600},{"d":"2022-07-15","p":20800},{"d":"2022-07-22","p":22600},
      {"d":"2022-08-01","p":23300},{"d":"2022-08-08","p":23800},{"d":"2022-08-15","p":24100},{"d":"2022-08-22","p":21500},
      {"d":"2022-09-01","p":20100},{"d":"2022-09-08","p":19300},{"d":"2022-09-12","p":22400},{"d":"2022-09-15","p":19700},{"d":"2022-09-22","p":19400},
      {"d":"2022-10-01","p":19300},{"d":"2022-10-08","p":19400},{"d":"2022-10-15","p":19100},{"d":"2022-10-22","p":19200},
      {"d":"2022-11-01","p":20500},{"d":"2022-11-08","p":18500},{"d":"2022-11-09","p":15900},{"d":"2022-11-15","p":16900},{"d":"2022-11-22","p":16200},
      {"d":"2022-12-01","p":17000},{"d":"2022-12-08","p":17200},{"d":"2022-12-15","p":17400},{"d":"2022-12-22","p":16800},
      {"d":"2023-01-01","p":16600},{"d":"2023-01-08","p":17100},{"d":"2023-01-15","p":20900},{"d":"2023-01-22","p":22700},
      {"d":"2023-02-01","p":23700},{"d":"2023-02-08","p":22900},{"d":"2023-02-15","p":24300},{"d":"2023-02-22","p":24200},
      {"d":"2023-03-01","p":23600},{"d":"2023-03-08","p":21700},{"d":"2023-03-10","p":20200},{"d":"2023-03-15","p":24400},{"d":"2023-03-22","p":27300},
      {"d":"2023-04-01","p":28500},{"d":"2023-04-08","p":27900},{"d":"2023-04-15","p":30300},{"d":"2023-04-22","p":27800},
      {"d":"2023-05-01","p":28100},{"d":"2023-05-08","p":27700},{"d":"2023-05-15","p":27200},{"d":"2023-05-22","p":26800},
      {"d":"2023-06-01","p":26800},{"d":"2023-06-08","p":26500},{"d":"2023-06-15","p":25600},{"d":"2023-06-22","p":30000},
      {"d":"2023-07-01","p":30600},{"d":"2023-07-08","p":30300},{"d":"2023-07-15","p":30300},{"d":"2023-07-22","p":29800},
      {"d":"2023-08-01","p":29700},{"d":"2023-08-08","p":29800},{"d":"2023-08-15","p":29200},{"d":"2023-08-22","p":26000},
      {"d":"2023-09-01","p":25900},{"d":"2023-09-08","p":25900},{"d":"2023-09-15","p":26600},{"d":"2023-09-22","p":26600},
      {"d":"2023-10-01","p":27900},{"d":"2023-10-08","p":27900},{"d":"2023-10-15","p":27100},{"d":"2023-10-22","p":30000},{"d":"2023-10-24","p":34500},
      {"d":"2023-11-01","p":35400},{"d":"2023-11-08","p":35600},{"d":"2023-11-15","p":35500},{"d":"2023-11-22","p":37300},
      {"d":"2023-12-01","p":38700},{"d":"2023-12-08","p":44200},{"d":"2023-12-15","p":41900},{"d":"2023-12-22","p":43900},
      {"d":"2024-01-01","p":44200},{"d":"2024-01-08","p":47000},{"d":"2024-01-11","p":46400},{"d":"2024-01-15","p":42500},{"d":"2024-01-22","p":39500},
      {"d":"2024-02-01","p":43100},{"d":"2024-02-08","p":45300},{"d":"2024-02-15","p":51900},{"d":"2024-02-22","p":51300},
      {"d":"2024-03-01","p":62400},{"d":"2024-03-08","p":68300},{"d":"2024-03-14","p":73100},{"d":"2024-03-15","p":69400},{"d":"2024-03-22","p":63800},
      {"d":"2024-04-01","p":69600},{"d":"2024-04-08","p":71600},{"d":"2024-04-15","p":63400},{"d":"2024-04-22","p":66800},
      {"d":"2024-05-01","p":58300},{"d":"2024-05-08","p":61200},{"d":"2024-05-15","p":66200},{"d":"2024-05-22","p":69200},
      {"d":"2024-06-01","p":67700},{"d":"2024-06-08","p":69300},{"d":"2024-06-15","p":66200},{"d":"2024-06-22","p":64300},
      {"d":"2024-07-01","p":62800},{"d":"2024-07-05","p":56600},{"d":"2024-07-08","p":56700},{"d":"2024-07-15","p":64800},{"d":"2024-07-22","p":67600},{"d":"2024-07-29","p":66800},
      {"d":"2024-08-01","p":65400},{"d":"2024-08-05","p":54000},{"d":"2024-08-08","p":61700},{"d":"2024-08-15","p":57500},{"d":"2024-08-22","p":60900},
      {"d":"2024-09-01","p":57300},{"d":"2024-09-06","p":53900},{"d":"2024-09-08","p":54800},{"d":"2024-09-15","p":59100},{"d":"2024-09-22","p":63400},{"d":"2024-09-27","p":65800},
      {"d":"2024-10-01","p":60800},{"d":"2024-10-08","p":62100},{"d":"2024-10-15","p":67000},{"d":"2024-10-22","p":67400},{"d":"2024-10-29","p":72700},
      {"d":"2024-11-01","p":69500},{"d":"2024-11-08","p":76500},{"d":"2024-11-15","p":91000},{"d":"2024-11-22","p":98900},
      {"d":"2024-12-01","p":97400},{"d":"2024-12-08","p":101100},{"d":"2024-12-15","p":104300},{"d":"2024-12-17","p":106000},{"d":"2024-12-22","p":95100},
      {"d":"2025-01-01","p":94400},{"d":"2025-01-08","p":95000},{"d":"2025-01-15","p":100500},{"d":"2025-01-20","p":102000},{"d":"2025-01-22","p":103700},
      {"d":"2025-02-01","p":100600},{"d":"2025-02-08","p":96500},{"d":"2025-02-15","p":97500},{"d":"2025-02-22","p":96600},
      {"d":"2025-03-01","p":86000},{"d":"2025-03-08","p":86100},{"d":"2025-03-15","p":84300},{"d":"2025-03-22","p":84000},
      {"d":"2025-04-01","p":85200},{"d":"2025-04-08","p":76300},{"d":"2025-04-15","p":83700},{"d":"2025-04-22","p":93400},
      {"d":"2025-05-01","p":96500},{"d":"2025-05-08","p":103200},{"d":"2025-05-15","p":103700},{"d":"2025-05-22","p":111600},
      {"d":"2025-06-01","p":105600},{"d":"2025-06-08","p":105700},{"d":"2025-06-15","p":105500},{"d":"2025-06-22","p":100900},
      {"d":"2025-07-01","p":105700},{"d":"2025-07-08","p":108300},{"d":"2025-07-14","p":119800},{"d":"2025-07-15","p":117700},{"d":"2025-07-22","p":119900},
      {"d":"2025-08-01","p":113300},{"d":"2025-08-08","p":116700},{"d":"2025-08-14","p":118400},{"d":"2025-08-15","p":117400},{"d":"2025-08-22","p":116900},
      {"d":"2025-09-01","p":109200},{"d":"2025-09-08","p":112000},{"d":"2025-09-15","p":115300},{"d":"2025-09-22","p":112700},
      {"d":"2025-10-01","p":118600},{"d":"2025-10-06","p":124500},{"d":"2025-10-08","p":123300},{"d":"2025-10-11","p":113000},{"d":"2025-10-15","p":111000},{"d":"2025-10-22","p":108000},
      {"d":"2025-11-01","p":110000},{"d":"2025-11-08","p":102300},{"d":"2025-11-15","p":95500},{"d":"2025-11-22","p":84700},
      {"d":"2025-12-01","p":86300},{"d":"2025-12-08","p":90600},{"d":"2025-12-15","p":86400},{"d":"2025-12-22","p":88600},
      {"d":"2026-01-01","p":88000},{"d":"2026-01-08","p":91000},{"d":"2026-01-15","p":95000},{"d":"2026-01-22","p":89500},
      {"d":"2026-02-01","p":78000},{"d":"2026-02-05","p":64000},{"d":"2026-02-08","p":68000},{"d":"2026-02-15","p":66500},{"d":"2026-02-22","p":66000},
      {"d":"2026-03-01","p":68000},{"d":"2026-03-08","p":71000},{"d":"2026-03-15","p":73000},{"d":"2026-03-22","p":70000},
      {"d":"2026-04-01","p":66500},{"d":"2026-04-08","p":69000},{"d":"2026-04-15","p":73000},{"d":"2026-04-22","p":77000},
      {"d":"2026-05-01","p":77500},{"d":"2026-05-08","p":80000},{"d":"2026-05-15","p":79000},{"d":"2026-05-22","p":77000},
      {"d":"2026-06-01","p":70000},{"d":"2026-06-05","p":63000},{"d":"2026-06-08","p":63000},{"d":"2026-06-15","p":65000},{"d":"2026-06-22","p":63000},{"d":"2026-06-24","p":61000}
    ]
  },
  "resolve": {"scale": {"y": "independent"}, "axis": {"y": "independent"}},
  "layer": [
    {
      "data": {"name": "supply"},
      "mark": {"type": "line", "strokeWidth": 4.6, "strokeJoin": "round", "strokeCap": "round"},
      "encoding": {
        "x": {
          "field": "d",
          "type": "temporal",
          "scale": {"domain": [{"year": 2017, "month": 9, "date": 18}, {"year": 2026, "month": 6, "date": 24}]},
          "axis": {
            "values": [
              {"year": 2018, "month": 3, "date": 1}, {"year": 2018, "month": 9, "date": 1},
              {"year": 2019, "month": 3, "date": 1}, {"year": 2019, "month": 9, "date": 1},
              {"year": 2020, "month": 3, "date": 1}, {"year": 2020, "month": 9, "date": 1},
              {"year": 2021, "month": 3, "date": 1}, {"year": 2021, "month": 9, "date": 1},
              {"year": 2022, "month": 3, "date": 1}, {"year": 2022, "month": 9, "date": 1},
              {"year": 2023, "month": 3, "date": 1}, {"year": 2023, "month": 9, "date": 1},
              {"year": 2024, "month": 3, "date": 1}, {"year": 2024, "month": 9, "date": 1},
              {"year": 2025, "month": 3, "date": 1}, {"year": 2025, "month": 9, "date": 1},
              {"year": 2026, "month": 3, "date": 1}
            ],
            "format": "%b '%y",
            "domain": false,
            "grid": false,
            "ticks": true,
            "tickSize": 20,
            "tickColor": "#e6e6e6",
            "tickWidth": 2,
            "labelPadding": 15,
            "labelFlush": false,
            "labelOverlap": false,
            "title": "© 2026 Glassnode. All Rights Reserved.",
            "titleX": -209,
            "titleY": 195,
            "titleAlign": "left",
            "titleBaseline": "middle",
            "titleAngle": 0,
            "titleFontSize": 32,
            "titleFontWeight": 400,
            "titleColor": "#7a7a7a"
          }
        },
        "y": {
          "field": "v",
          "type": "quantitative",
          "scale": {"domain": [36, 104], "nice": false, "zero": false},
          "axis": {
            "orient": "left",
            "values": [40, 45, 50, 55, 60, 65, 70, 75, 80, 85, 90, 95, 100],
            "labelExpr": "datum.value + '%'",
            "domain": true,
            "domainColor": "#f7931a",
            "domainWidth": 4,
            "offset": 16,
            "ticks": false,
            "labelPadding": 22,
            "grid": true,
            "gridColor": "#ececec",
            "gridWidth": 1.5,
            "title": null
          }
        },
        "color": {
          "datum": "BTC: Percent Supply in Profit",
          "scale": {"domain": ["BTC: Percent Supply in Profit", "BTC: Price [USD]"], "range": ["#f7931a", "#000000"]},
          "legend": {
            "orient": "none",
            "legendX": -209,
            "legendY": -117,
            "direction": "horizontal",
            "title": null,
            "symbolType": "circle",
            "symbolSize": 290,
            "symbolStrokeWidth": 0,
            "labelFontSize": 25,
            "labelColor": "#1a1a1a",
            "labelFont": "Inter",
            "labelOffset": 4,
            "columnPadding": 28,
            "labelLimit": 800,
            "padding": 0,
            "encode": {"symbols": {"update": {"fill": {"scale": "color", "field": "value"}, "opacity": {"value": 1}}}}
          }
        }
      }
    },
    {
      "data": {"name": "price"},
      "mark": {"type": "line", "strokeWidth": 4.4, "strokeJoin": "round", "strokeCap": "round"},
      "encoding": {
        "x": {"field": "d", "type": "temporal"},
        "y": {
          "field": "p",
          "type": "quantitative",
          "scale": {"type": "log", "domain": [3000, 1000000], "nice": false},
          "axis": {
            "orient": "right",
            "values": [5000, 10000, 20000, 50000, 100000, 200000, 500000, 1000000],
            "labelExpr": "datum.value >= 1000000 ? '$1m' : '$' + format(datum.value / 1000, 'd') + 'k'",
            "domain": true,
            "domainColor": "#000000",
            "domainWidth": 4,
            "offset": 20,
            "ticks": false,
            "labelPadding": 17,
            "labelOverlap": false,
            "grid": false,
            "title": "glassnode",
            "titleAngle": 0,
            "titleX": 188,
            "titleY": 1096,
            "titleAlign": "right",
            "titleBaseline": "middle",
            "titleFontSize": 66,
            "titleFontWeight": 500,
            "titleColor": "#1e1e1e"
          }
        },
        "color": {"datum": "BTC: Price [USD]"}
      }
    },
    {
      "data": {"values": [{}]},
      "mark": {"type": "rect", "color": "#f25050", "opacity": 0.14},
      "encoding": {
        "y": {"datum": 95, "type": "quantitative", "scale": {"domain": [36, 104], "nice": false, "zero": false}, "axis": null},
        "y2": {"datum": 104}
      }
    },
    {
      "data": {"values": [{}]},
      "mark": {"type": "rect", "color": "#40c090", "opacity": 0.14},
      "encoding": {
        "y": {"datum": 36, "type": "quantitative", "scale": {"domain": [36, 104], "nice": false, "zero": false}, "axis": null},
        "y2": {"datum": 50}
      }
    },
    {
      "data": {"values": [{}]},
      "mark": {"type": "rule", "color": "#f06060", "strokeWidth": 1.8},
      "encoding": {
        "y": {"datum": 95, "type": "quantitative", "scale": {"domain": [36, 104], "nice": false, "zero": false}, "axis": null}
      }
    },
    {
      "data": {"values": [{}]},
      "mark": {"type": "rule", "color": "#78d2a8", "strokeWidth": 2},
      "encoding": {
        "y": {"datum": 50, "type": "quantitative", "scale": {"domain": [36, 104], "nice": false, "zero": false}, "axis": null}
      }
    },
    {
      "data": {"values": [{}]},
      "mark": {"type": "text", "text": "glassnode", "font": "Inter", "fontSize": 236, "fontWeight": 500, "align": "center", "baseline": "alphabetic", "color": "#000000", "opacity": 0.075},
      "encoding": {
        "x": {"datum": {"year": 2022, "month": 2, "date": 4}, "type": "temporal"},
        "y": {"datum": 64.8, "type": "quantitative", "scale": {"domain": [36, 104], "nice": false, "zero": false}, "axis": null}
      }
    }
  ]
}
